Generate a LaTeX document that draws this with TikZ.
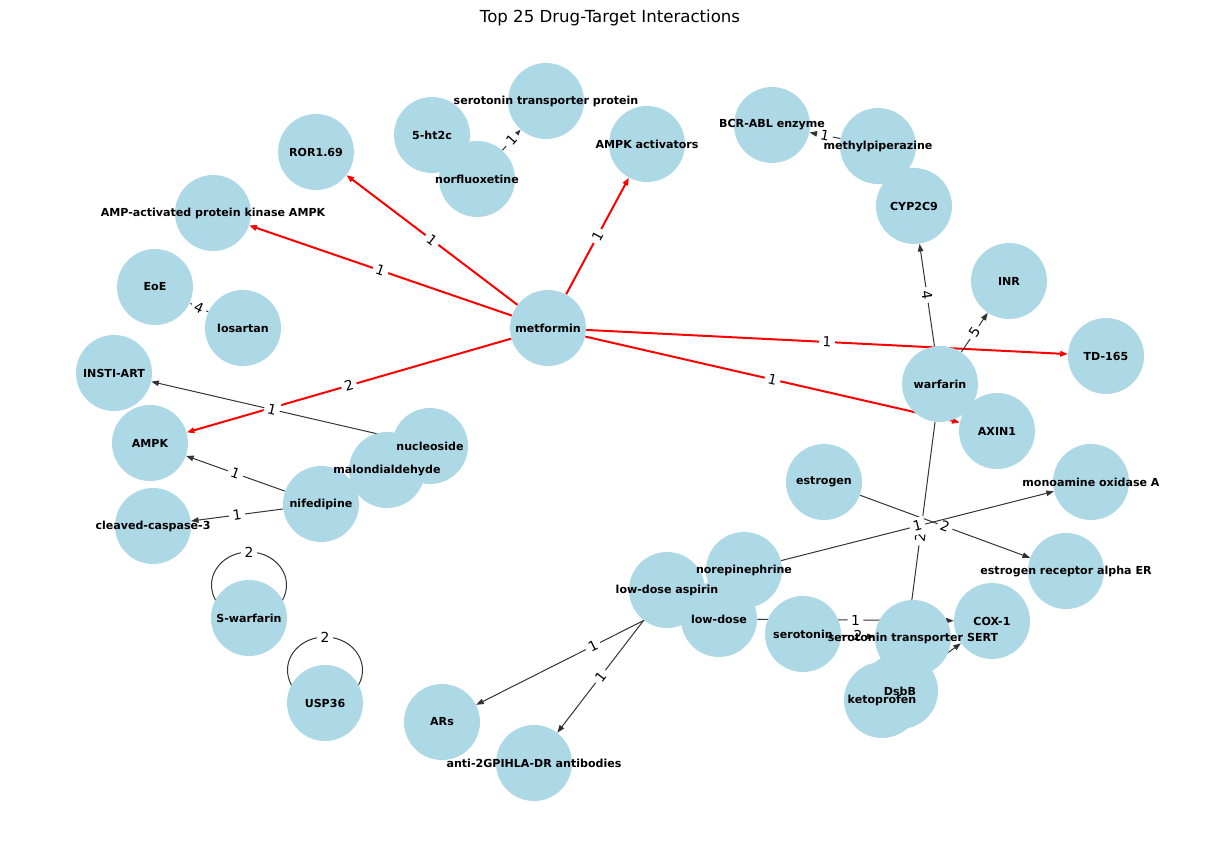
\documentclass[tikz,border=0pt]{standalone}
\usepackage{fontspec}
\setmainfont{DejaVu Sans}
\usepackage{xcolor}
\usetikzlibrary{arrows.meta, backgrounds}
\definecolor{lightblue}{RGB}{173,216,230}

\begin{document}
\begin{tikzpicture}[
    x=0.0254cm, y=-0.0254cm,
    bubble/.style={circle, fill=lightblue, minimum size=1.9304cm, inner sep=0pt},
    nodetext/.style={font=\fontsize{8}{9.6}\selectfont\bfseries, inner sep=0pt},
    elabel/.style={font=\fontsize{10}{12}\selectfont, text=black, fill=white, inner sep=2.5pt, sloped},
    redge/.style={red, line width=1.44pt, -{Triangle[length=5.5pt,width=4pt]}},
    kedge/.style={black!80, line width=0.72pt, -{Triangle[length=5.5pt,width=4pt]}},
    loopline/.style={black!80, line width=0.72pt}
]
\useasboundingbox (0,0) rectangle (1220,842);

\node[font=\fontsize{12}{14}\selectfont] (title) at (610,18) {Top 25 Drug-Target Interactions};

% Nodes
\node[bubble] (stp) at (546,101) {};
\node[bubble] (htc) at (432,135) {};
\node[bubble] (norflu) at (477,179) {};
\node[bubble] (ampkact) at (647,144) {};
\node[bubble] (ror) at (316,152) {};
\node[bubble] (ampkprot) at (213,213) {};
\node[bubble] (bcrabl) at (772,125) {};
\node[bubble] (methpip) at (878,146) {};
\node[bubble] (cyp) at (914,206) {};
\node[bubble] (inr) at (1009,281) {};
\node[bubble] (eoe) at (155,287) {};
\node[bubble] (losartan) at (243,328) {};
\node[bubble] (metformin) at (548,328) {};
\node[bubble] (td) at (1106,356) {};
\node[bubble] (insti) at (114,373) {};
\node[bubble] (warfarin) at (940,384) {};
\node[bubble] (axin) at (997,431) {};
\node[bubble] (ampk) at (150,443) {};
\node[bubble] (nucleoside) at (430,446) {};
\node[bubble] (malon) at (387,470) {};
\node[bubble] (estrogen) at (824,482) {};
\node[bubble] (mao) at (1091,482) {};
\node[bubble] (nifedipine) at (321,504) {};
\node[bubble] (caspase) at (153,526) {};
\node[bubble] (norepi) at (744,570) {};
\node[bubble] (era) at (1066,571) {};
\node[bubble] (aspirin) at (667,590) {};
\node[bubble] (lowdose) at (719,619) {};
\node[bubble] (swarf) at (249,618) {};
\node[bubble] (cox) at (992,621) {};
\node[bubble] (serotonin) at (803,634) {};
\node[bubble] (sert) at (913,638) {};
\node[bubble] (dsbb) at (900,691) {};
\node[bubble] (keto) at (882,700) {};
\node[bubble] (usp) at (325,703) {};
\node[bubble] (ars) at (442,722) {};
\node[bubble] (antigpi) at (534,763) {};

% Node texts
\node[nodetext] (stp-t) at (stp) {serotonin transporter protein};
\node[nodetext] (htc-t) at (htc) {5-ht2c};
\node[nodetext] (norflu-t) at (norflu) {norfluoxetine};
\node[nodetext] (ampkact-t) at (ampkact) {AMPK activators};
\node[nodetext] (ror-t) at (ror) {ROR1.69};
\node[nodetext] (ampkprot-t) at (ampkprot) {AMP-activated protein kinase AMPK};
\node[nodetext] (bcrabl-t) at (bcrabl) {BCR-ABL enzyme};
\node[nodetext] (methpip-t) at (methpip) {methylpiperazine};
\node[nodetext] (cyp-t) at (cyp) {CYP2C9};
\node[nodetext] (inr-t) at (inr) {INR};
\node[nodetext] (eoe-t) at (eoe) {EoE};
\node[nodetext] (losartan-t) at (losartan) {losartan};
\node[nodetext] (metformin-t) at (metformin) {metformin};
\node[nodetext] (td-t) at (td) {TD-165};
\node[nodetext] (insti-t) at (insti) {INSTI-ART};
\node[nodetext] (warfarin-t) at (warfarin) {warfarin};
\node[nodetext] (axin-t) at (axin) {AXIN1};
\node[nodetext] (ampk-t) at (ampk) {AMPK};
\node[nodetext] (nucleoside-t) at (nucleoside) {nucleoside};
\node[nodetext] (malon-t) at (malon) {malondialdehyde};
\node[nodetext] (estrogen-t) at (estrogen) {estrogen};
\node[nodetext] (mao-t) at (mao) {monoamine oxidase A};
\node[nodetext] (nifedipine-t) at (nifedipine) {nifedipine};
\node[nodetext] (caspase-t) at (caspase) {cleaved-caspase-3};
\node[nodetext] (norepi-t) at (norepi) {norepinephrine};
\node[nodetext] (era-t) at (era) {estrogen receptor alpha ER};
\node[nodetext] (aspirin-t) at (aspirin) {low-dose aspirin};
\node[nodetext] (lowdose-t) at (lowdose) {low-dose};
\node[nodetext] (swarf-t) at (swarf) {S-warfarin};
\node[nodetext] (cox-t) at (cox) {COX-1};
\node[nodetext] (serotonin-t) at (serotonin) {serotonin};
\node[nodetext] (sert-t) at (sert) {serotonin transporter SERT};
\node[nodetext] (dsbb-t) at (dsbb) {DsbB};
\node[nodetext] (keto-t) at (keto) {ketoprofen};
\node[nodetext] (usp-t) at (usp) {USP36};
\node[nodetext] (ars-t) at (ars) {ARs};
\node[nodetext] (antigpi-t) at (antigpi) {anti-2GPIHLA-DR antibodies};

% Edges
\begin{scope}[on background layer]
\draw[redge] (metformin) -- node[elabel]{1} (ror);
\draw[redge] (metformin) -- node[elabel]{1} (ampkprot);
\draw[redge] (metformin) -- node[elabel]{1} (ampkact);
\draw[redge] (metformin) -- node[elabel]{1} (td);
\draw[redge] (metformin) -- node[elabel]{1} (axin);
\draw[redge] (metformin) -- node[elabel]{2} (ampk);

\draw[kedge] (norflu) -- node[elabel]{1} (stp);
\draw[kedge] (methpip) -- node[elabel]{1} (bcrabl);
\draw[kedge] (warfarin) -- node[elabel]{4} (cyp);
\draw[kedge] (warfarin) -- node[elabel]{5} (inr);
\draw[kedge] (losartan) -- node[elabel]{4} (eoe);
\draw[kedge] (nucleoside) -- node[elabel]{1} (insti);
\draw[kedge] (nifedipine) -- node[elabel]{1} (ampk);
\draw[kedge] (nifedipine) -- node[elabel]{1} (caspase);
\draw[kedge] (warfarin) -- node[elabel]{2} (dsbb);
\draw[kedge] (estrogen) -- node[elabel]{2} (era);
\draw[kedge] (norepi) -- node[elabel]{1} (mao);
\draw[kedge] (norepi) -- node[elabel]{1} (ars);
\draw[kedge] (aspirin) -- node[elabel]{1} (antigpi);
\draw[kedge] (lowdose) -- node[elabel]{1} (cox);
\draw[kedge] (serotonin) -- node[elabel]{2} (sert);
\draw[kedge] (keto) -- (cox);

% self loops
\draw[loopline] ([yshift=23.8pt]swarf.center) ellipse[x radius=0.9525cm, y radius=0.84cm];
\node[elabel] (swarf-l) at ([yshift=47.5pt]swarf.center) {2};
\draw[loopline] ([yshift=23.8pt]usp.center) ellipse[x radius=0.9525cm, y radius=0.84cm];
\node[elabel] (usp-l) at ([yshift=47.5pt]usp.center) {2};
\end{scope}

\end{tikzpicture}
\end{document}
